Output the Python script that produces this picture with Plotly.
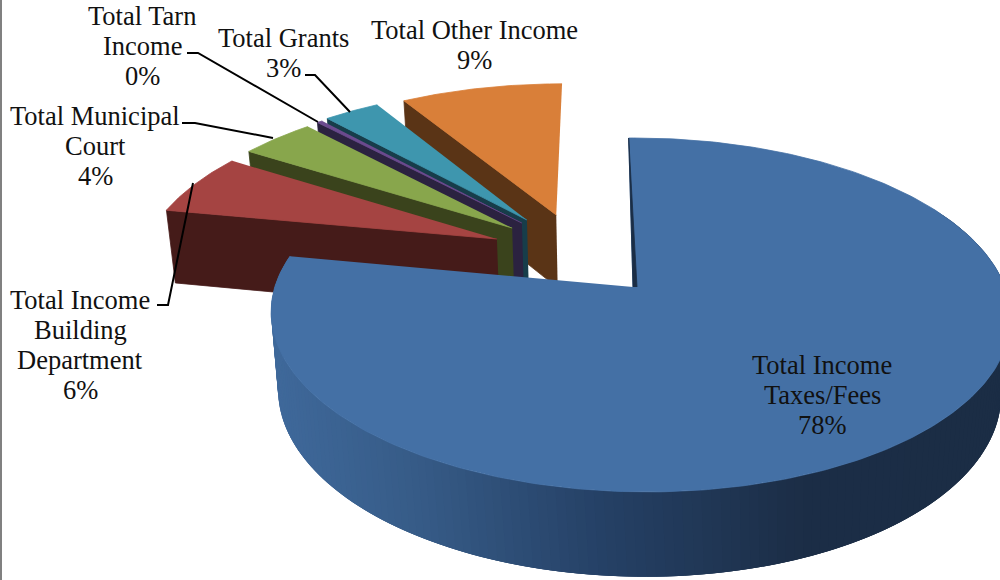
import numpy as np
import plotly.graph_objects as go

# ---- chart data -------------------------------------------------------
categories = ["Total Income Taxes/Fees", "Total Income Building Department",
              "Total Municipal Court", "Total Tarn Income", "Total Grants",
              "Total Other Income"]
values = [78.0, 6.0, 4.0, 0.3, 3.0, 8.7]
percent_labels = ["78%", "6%", "4%", "0%", "3%", "9%"]
top_colors = ["#4470a5", "#a54442", "#88a64c", "#6b4a8e", "#3e96ae", "#d97f39"]
wall_colors = ["#1b2d45", "#451b19", "#3a431c", "#2b2240", "#173d4a", "#5a3416"]

# explosion offset of each slice, in pie radii (sideways, away from viewer)
explode_u = [0.0, -0.386, -0.345, -0.318, -0.304, -0.219]
explode_v = [0.0, 0.291, 0.3615, 0.394, 0.414, 0.447]

# text lines and placement of each label
label_lines = [["Total Income", "Taxes/Fees"], ["Total Income", "Building", "Department"],
               ["Total Municipal", "Court"], ["Total Tarn", "Income"], ["Total Grants"],
               ["Total Other Income"]]
label_x = [822, 80, 95, 142, 283, 474]
label_y = [365, 300, 116, 16, 38, 30]

# ---- projection -------------------------------------------------------
P = 0.158
TOP_MAIN = dict(x0=633, y0=287, a=365, b=172.5, c=-5, q=0.019)
TOP_EXPL = dict(x0=633, y0=287, a=365, b=172.5, c=-5, q=0.0)
BOTTOM_MAIN = dict(x0=637, y0=363, a=357, b=180, c=-5, q=0.005)
BOTTOM_EXPL = dict(x0=633, y0=363, a=358, b=180, c=-5, q=0.0)


def project(u, v, m):
    w = 1 + P * v - m["q"] * u
    return m["x0"] + (m["a"] * u + m["c"] * v) / w, m["y0"] - m["b"] * v / w


def poly(x, y, color, name, lw=0.8):
    return go.Scatter(x=list(x), y=list(y), mode="lines", fill="toself", fillcolor=color,
                      line=dict(color=color, width=lw), hoverinfo="text", text=name,
                      showlegend=False)


def lerp_color(x):
    xs = [270, 420, 600, 800, 1000]
    rs = [64, 55, 38, 28, 27]
    gs = [106, 92, 66, 46, 45]
    bs = [156, 136, 103, 71, 69]
    return "rgb(%d,%d,%d)" % (np.interp(x, xs, rs), np.interp(x, xs, gs), np.interp(x, xs, bs))


total = sum(values)
ends = np.cumsum(values) / total * 2 * np.pi
starts = np.concatenate([[0], ends[:-1]])

fig = go.Figure()

# exploded slices first, back to front
for i in [5, 4, 3, 2, 1]:
    th = np.linspace(starts[i], ends[i], 40)
    u = explode_u[i] + np.sin(th)
    v = explode_v[i] + np.cos(th)
    ou, ov = explode_u[i], explode_v[i]
    # wall along the first radial edge
    au = np.array([ou, u[0]])
    av = np.array([ov, v[0]])
    xt, yt = project(au, av, TOP_EXPL)
    xb, yb = project(au, av, BOTTOM_EXPL)
    fig.add_trace(poly([xt[0], xt[1], xb[1], xb[0]], [yt[0], yt[1], yb[1], yb[0]],
                       wall_colors[i], categories[i]))
    xr, yr = project(np.r_[ou, u], np.r_[ov, v], TOP_EXPL)
    fig.add_trace(poly(xr, yr, top_colors[i], categories[i]))

# outer wall of the big slice, as overlapping strips for the shading
th = np.linspace(np.pi / 2 - 0.5, ends[0], 170)
xt, yt = project(np.sin(th), np.cos(th), TOP_MAIN)
xb, yb = project(np.sin(th), np.cos(th), BOTTOM_MAIN)
for k in range(len(th) - 1):
    col = lerp_color((xb[k] + xb[k + 1]) / 2)
    end = min(k + 3, len(th) - 1)
    fig.add_trace(poly(np.r_[xt[k:end + 1], xb[k:end + 1][::-1]],
                       np.r_[yt[k:end + 1], yb[k:end + 1][::-1]],
                       col, categories[0], lw=0))

# big slice top, with the thin dark wall seen along its first edge
th = np.linspace(0, ends[0], 300)
xr, yr = project(np.r_[0, np.sin(th)], np.r_[0, np.cos(th)], TOP_MAIN)
fig.add_trace(poly(xr, yr, top_colors[0], categories[0]))
fig.add_trace(poly([xr[0], xr[1], xr[0] + 4], [yr[0], yr[1], yr[0]], wall_colors[0], categories[0]))

# labels: one annotation per text line so the line pitch can follow the picture
PITCH = 30
annotations = []
for i in range(len(categories)):
    for n, line in enumerate(label_lines[i] + [percent_labels[i]]):
        annotations.append(dict(x=label_x[i], y=label_y[i] + n * PITCH, text=line, showarrow=False,
                                xref="x", yref="y", align="center", xanchor="center", yanchor="middle",
                                font=dict(family="Liberation Serif", size=26.5, color="#111111")))

leaders = [
    "M187,53 L198,53 L318,122",
    "M305,75 L315,75 L350,112",
    "M182,123 L195,123 L273,138",
    "M157,305 L168,305 L193,183",
]
shapes = [dict(type="path", path=p, line=dict(color="black", width=2), xref="x", yref="y")
          for p in leaders]
shapes.append(dict(type="rect", x0=0, x1=2, y0=0, y1=580, xref="x", yref="y",
                   fillcolor="#808080", line=dict(width=0)))

fig.update_layout(width=1000, height=580, margin=dict(l=0, r=0, t=0, b=0),
                  paper_bgcolor="white", plot_bgcolor="white", showlegend=False,
                  xaxis=dict(range=[0, 1000], visible=False, fixedrange=True),
                  yaxis=dict(range=[580, 0], visible=False, fixedrange=True),
                  annotations=annotations, shapes=shapes)
fig.write_html("out.html", config={"displayModeBar": False},
               post_script="document.body.style.margin='0';document.documentElement.style.overflow='hidden';")
